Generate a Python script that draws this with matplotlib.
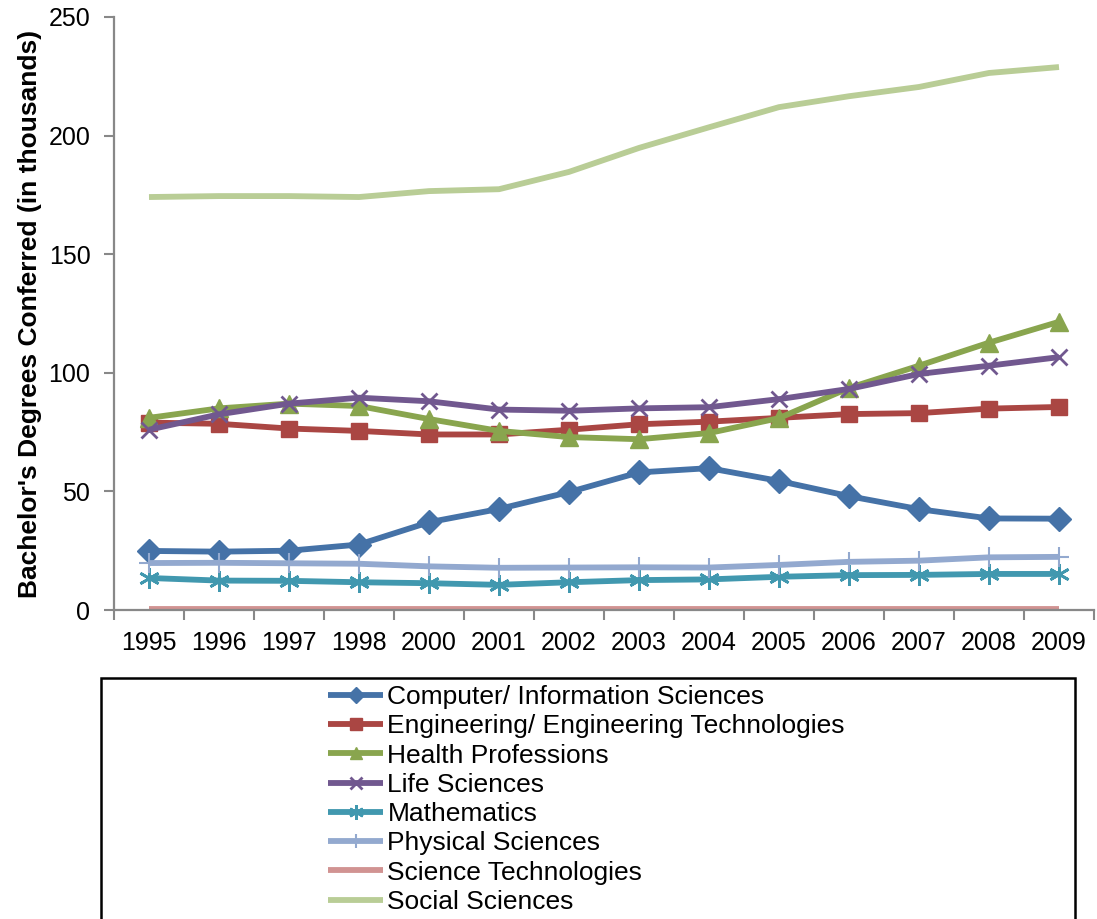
import matplotlib.pyplot as plt
import numpy as np
from matplotlib.patches import Rectangle

plt.rcParams['font.family'] = ['Liberation Sans', 'DejaVu Sans']

# Data (thousands of degrees)
years = ['1995', '1996', '1997', '1998', '2000', '2001', '2002', '2003', '2004',
         '2005', '2006', '2007', '2008', '2009']
computer = [24.9, 24.6, 25.0, 27.6, 37.0, 42.6, 49.7, 58.0, 59.8, 54.4, 48.0, 42.5, 38.6, 38.5]
engineering = [79.0, 78.5, 76.5, 75.5, 74.0, 74.0, 76.0, 78.3, 79.4, 81.0, 82.6, 83.0, 84.9, 85.6]
health = [81.0, 85.0, 87.0, 86.0, 80.5, 75.5, 72.9, 72.0, 74.6, 80.9, 93.6, 103.0, 112.7, 121.5]
life = [76.0, 82.5, 87.0, 89.5, 88.0, 84.5, 84.0, 85.0, 85.5, 88.9, 93.2, 99.5, 103.0, 106.6]
mathematics = [13.5, 12.4, 12.3, 11.7, 11.3, 10.6, 11.7, 12.6, 12.9, 14.0, 14.7, 14.8, 15.2, 15.2]
physical = [19.8, 19.9, 19.7, 19.5, 18.4, 17.8, 17.9, 18.0, 17.9, 19.0, 20.3, 20.8, 22.2, 22.4]
sci_tech = [0.3, 0.3, 0.3, 0.3, 0.3, 0.3, 0.3, 0.3, 0.3, 0.3, 0.3, 0.3, 0.3, 0.3]
social = [174.1, 174.5, 174.5, 174.1, 176.6, 177.4, 184.7, 194.8, 203.5, 212.0, 216.6, 220.5, 226.4, 228.9]

series = [
    ('Computer/ Information Sciences', computer, '#4572a7', 'D', 12, 1),
    ('Engineering/ Engineering Technologies', engineering, '#aa4643', 's', 12, 1),
    ('Health Professions', health, '#89a54e', '^', 13, 1),
    ('Life Sciences', life, '#71588f', 'x', 12, 2),
    ('Mathematics', mathematics, '#4198af', (6, 2, 0), 15, 2),
    ('Physical Sciences', physical, '#93a9cf', '+', 14, 1.5),
    ('Science Technologies', sci_tech, '#d19392', None, 0, 1),
    ('Social Sciences', social, '#b9cd96', None, 0, 1),
]

fig = plt.figure(figsize=(10.97, 9.19), dpi=100)
ax = fig.add_axes([114 / 1097, 1 - 610 / 919, (1094 - 114) / 1097, (610 - 17) / 919])

x = np.arange(len(years))
for name, vals, col, mk, ms, mew in series:
    ax.plot(x, vals, color=col, lw=4.2, marker=mk, markersize=ms,
            markeredgewidth=mew, markeredgecolor=col, markerfacecolor=col,
            label=name, solid_capstyle='butt')

ax.set_xlim(-0.5, 13.5)
ax.set_ylim(0, 250)
ax.set_yticks([0, 50, 100, 150, 200, 250])
ax.set_xticks(x, labels=years)
ax.set_xticks(np.arange(-0.5, 14, 1), minor=True)
ax.tick_params(axis='x', which='major', length=0, pad=15, labelsize=18)
ax.tick_params(axis='x', which='minor', length=7, width=1.5, color='#888888', direction='out')
ax.tick_params(axis='y', length=7, width=1.5, color='#888888', pad=10, labelsize=18)

for side in ['top', 'right']:
    ax.spines[side].set_visible(False)
for side in ['left', 'bottom']:
    ax.spines[side].set_color('#888888')
    ax.spines[side].set_linewidth(1.6)

ax.set_ylabel("Bachelor's Degrees Conferred (in thousands)", fontsize=19,
              fontweight='bold', labelpad=5)

# legend box (open at the bottom like the original)
fig.patches.append(Rectangle((101 / 1097, -0.05), (1075 - 101) / 1097, (1 - 678 / 919) + 0.05,
                             transform=fig.transFigure, fill=False, edgecolor='black', lw=1.8))
leg = fig.legend(loc='upper left', bbox_to_anchor=(328 / 1097, 1 - 685 / 919), frameon=False,
                 fontsize=19, handlelength=2.1, handletextpad=0.15, labelspacing=0.2,
                 borderaxespad=0, borderpad=0)
for h in leg.legend_handles:
    h.set_markersize(h.get_markersize() * 0.7)

fig.savefig('out.png', dpi=100)
